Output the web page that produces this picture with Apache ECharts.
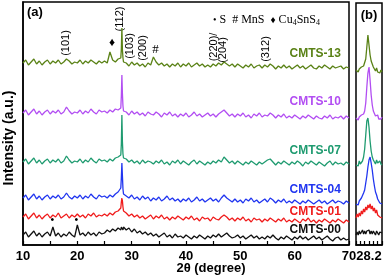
<!DOCTYPE html>
<html><head><meta charset="utf-8">
<script src="https://cdn.jsdelivr.net/npm/echarts@6/dist/echarts.min.js"></script>
<style>html,body{margin:0;padding:0;background:#fff}#c{width:385px;height:278px}</style>
</head><body><div id="c"></div>
<script>
// ---- Data (intensities in arbitrary units, already offset) ----
const twoTheta = [
10,10.5,11,11.5,12,12.5,13,13.5,14,14.5,
15,15.5,16,16.5,17,17.5,18,18.5,19,19.5,
20,20.5,21,21.5,22,22.5,23,23.5,24,24.5,
25,25.5,26,26.5,27,27.5,28,28.1,28.2,28.3,28.4,28.5,
29,29.5,30,30.5,31,31.5,32,32.5,33,33.5,
34,34.5,35,35.5,36,36.5,37,37.5,38,38.5,
39,39.5,40,40.5,41,41.5,42,42.5,43,43.5,
44,44.5,45,45.5,46,46.5,47,47.5,48,48.5,
49,49.5,50,50.5,51,51.5,52,52.5,53,53.5,
54,54.5,55,55.5,56,56.5,57,57.5,58,58.5,
59,59.5,60,60.5,61,61.5,62,62.5,63,63.5,
64,64.5,65,65.5,66,66.5,67,67.5,68,68.5,
69,69.5,70];

const cmts00 = [
10,13,8,11,14,9,12,8,11,13,
9,18,9,12,8,11,9,13,10,8,
20,10,12,9,13,10,12,9,13,11,
12,15,13,16,14,17,15,18,16,17,15,18,
15,17,13,16,12,14,11,13,10,12,
9,11,8,10,12,8,10,7,11,8,
9,7,10,8,6,9,7,10,8,6,
9,7,10,8,11,8,10,12,9,7,
8,10,7,9,6,8,10,7,9,6,
8,6,9,7,10,7,5,8,6,9,
7,5,8,6,9,6,8,5,7,9,
6,8,5,7,9,6,4,7,8,5,
7,5,6];
const cmts01 = [
28,31,26,29,32,27,30,26,29,31,
27,30,28,32,27,29,31,27,30,28,
31,28,30,27,31,29,32,28,30,29,
31,29,32,30,33,34,37,43,47,44,38,34,
32,29,31,28,30,27,29,26,28,30,
26,29,27,30,26,28,25,28,26,29,
27,25,28,26,29,25,27,24,28,26,
27,24,28,26,25,28,30,28,25,27,
24,27,25,28,24,26,23,27,25,26,
23,26,24,27,25,23,26,24,27,23,
25,23,26,24,22,26,24,27,23,25,
22,25,23,26,24,22,25,23,26,24,
22,25,23];
const cmts04 = [
47,50,45,48,51,46,49,45,48,50,
46,49,47,50,46,48,52,48,46,49,
47,50,46,49,47,51,48,46,50,48,
49,47,50,48,51,53,57,67,82,69,56,51,
49,47,50,46,48,45,49,46,48,44,
47,45,48,44,46,49,45,47,44,46,
43,46,44,47,43,45,48,44,46,43,
45,47,44,46,43,47,50,47,45,43,
46,43,45,42,46,44,47,43,45,42,
44,46,43,47,45,42,45,43,46,42,
44,42,45,43,41,44,42,45,43,41,
43,45,42,44,41,43,45,42,44,43,
41,44,42];
const cmts07 = [
83,86,81,84,87,82,85,81,84,86,
82,85,83,86,82,84,89,85,82,84,
83,86,82,85,83,87,84,82,86,84,
85,83,86,84,87,88,90,101,130,103,91,87,
86,83,85,82,84,81,85,82,84,83,
81,84,82,85,81,83,80,84,82,85,
81,84,82,80,83,85,81,84,82,80,
83,81,84,82,85,83,88,85,82,84,
81,84,82,80,83,81,84,82,80,83,
81,83,85,86,83,80,83,81,84,82,
80,83,81,84,82,79,83,81,84,82,
80,83,81,79,82,84,80,83,81,82,
80,83,81];
const cmts10 = [
132,135,130,133,136,131,134,130,133,135,
131,134,132,135,131,133,138,134,131,133,
132,135,131,134,132,136,133,131,135,133,
134,132,135,133,136,135,137,149,170,151,139,134,
133,130,134,131,133,130,132,129,133,131,
130,133,131,128,132,130,133,129,131,128,
131,129,132,128,130,133,129,131,128,130,
132,129,131,128,131,133,135,132,129,131,
128,131,129,132,128,130,127,131,129,132,
128,130,129,132,130,127,130,128,131,127,
129,127,130,128,126,129,127,130,128,126,
129,127,126,129,127,130,126,128,127,129,
126,129,127];
const cmts13 = [
182,185,180,183,186,181,184,180,183,185,
181,184,182,185,181,183,186,184,181,183,
182,185,181,184,182,185,183,181,184,182,
184,182,193,185,183,186,187,196,217,195,187,183,
182,179,183,180,182,179,181,178,182,180,
188,183,180,182,179,181,178,181,179,182,
178,181,179,182,178,180,182,179,181,178,
180,178,181,179,182,180,183,181,179,181,
178,181,179,177,180,178,181,177,179,180,
177,180,178,181,179,176,179,177,180,177,
179,176,178,180,177,179,176,178,180,177,
176,179,177,180,178,176,179,177,178,179,
176,178,177];

// panel (b): zoom around the (112) reflection
const zoomTheta = [27.9,27.925,27.95,27.975,28,28.025,28.05,28.075,28.1,28.125,28.15,28.175,28.2,
  28.225,28.25,28.275,28.3,28.325,28.35,28.375,28.4,28.425,28.45,28.475,28.5];
const zoom13 = [175,177,173,176,174,178,176,179,181,186,198,210,200,190,184,181,178,176,174,177,173,175,172,175,173];
const zoom10 = [127,129,125,128,126,130,128,131,134,142,158,172,178,165,150,140,134,132,129,128,130,126,128,126,128];
const zoom07 = [80,82,79,84,81,83,84,88,96,110,124,127,118,104,94,88,85,83,81,85,82,80,84,81,80];
const zoom04 = [41,43,40,44,43,47,48,52,55,62,69,78,85,88,82,75,66,59,53,50,46,45,42,43,41];
const zoom01 = [27,31,28,32,29,34,31,36,33,38,35,40,37,41,36,39,34,37,32,35,30,31,28,29,27];
const zoom00 = [10,13,10,14,11,12,15,11,14,11,14,12,15,11,14,11,14,12,10,14,12,10,13,11,12];

const sampleNames = ['CMTS-00','CMTS-01','CMTS-04','CMTS-07','CMTS-10','CMTS-13'];
const xTickLabels = [10,20,30,40,50,60,70];
const zoomTickLabels = [28.2];

// annotations in data coordinates [2θ, intensity]
const planeLabels = [
  ['(101)',17.9,202],['(112)',27.9,226],['(103)',29.75,199],['(200)',32.15,197],
  ['(220)/',45.1,198],['(204)',46.75,195],['(312)',54.7,196]];
const phaseMarks = [['♦',26.4,202],['#',34.4,195],['•',15.4,24],['•',19.8,24]];
const sampleLabelPos = [15.5,33.5,55,94,143,191];

// ---- Styles ----
const colors = ['#111111','#f01c1c','#2136f0','#1f9b70','#b24ef2','#5a8216'];
const mainVals = [cmts00,cmts01,cmts04,cmts07,cmts10,cmts13];
const zoomVals = [zoom00,zoom01,zoom04,zoom07,zoom10,zoom13];
const SANS = 'Liberation Sans, Arial, sans-serif';
const SERIF = 'Liberation Serif, Times New Roman, serif';

const chart = echarts.init(document.getElementById('c'), null, {renderer:'canvas'});
const series = [];
mainVals.forEach((v,i)=>series.push({
  type:'line', name:sampleNames[i], xAxisIndex:0, yAxisIndex:0, symbol:'none',
  data: twoTheta.map((x,j)=>[x,v[j]]), lineStyle:{width:1.3,color:colors[i]}, animation:false}));
zoomVals.forEach((v,i)=>series.push({
  type:'line', name:sampleNames[i]+'-b', xAxisIndex:1, yAxisIndex:1, symbol:'none',
  data: zoomTheta.map((x,j)=>[x,v[j]]), lineStyle:{width:1.3,color:colors[i]}, animation:false}));

const tickStyle = {color:'#000', fontWeight:'bold', fontSize:13, fontFamily:SANS, margin:5};
chart.setOption({
  animation:false,
  grid:[
    {left:23,right:36,top:2,bottom:33,show:true,borderColor:'#000',borderWidth:1.5},
    {left:356,right:2,top:3,bottom:33,show:true,borderColor:'#000',borderWidth:1.5}],
  xAxis:[
    {gridIndex:0,type:'value',min:10,max:70,interval:5,
     axisLine:{show:true,lineStyle:{color:'#000',width:1.5}},
     axisTick:{inside:true,length:4,lineStyle:{color:'#000',width:1.2}},
     axisLabel:Object.assign({formatter:v=>xTickLabels.includes(v)?String(v):''},tickStyle),
     splitLine:{show:false}},
    {gridIndex:1,type:'value',min:27.9,max:28.5,interval:0.1,
     axisLine:{show:true,lineStyle:{color:'#000',width:1.5}},
     axisTick:{inside:true,length:4,lineStyle:{color:'#000',width:1.2}},
     axisLabel:Object.assign({formatter:v=>zoomTickLabels.some(t=>Math.abs(t-v)<1e-6)?'28.2':''},tickStyle),
     splitLine:{show:false}}],
  yAxis:[
    {gridIndex:0,type:'value',min:0,max:243,axisLine:{show:true,lineStyle:{color:'#000',width:1.5}},
     axisTick:{show:false},axisLabel:{show:false},splitLine:{show:false}},
    {gridIndex:1,type:'value',min:0,max:242,axisLine:{show:false},
     axisTick:{show:false},axisLabel:{show:false},splitLine:{show:false}}],
  series
});

const P = (x,y)=>chart.convertToPixel({xAxisIndex:0,yAxisIndex:0},[x,y]);
const graphic = [];
planeLabels.forEach(([t,x,y])=>{const p=P(x,y);graphic.push({type:'text',x:p[0],y:p[1],rotation:Math.PI/2,
  style:{text:t,fill:'#000',font:'11px '+SANS,textAlign:'center',textVerticalAlign:'middle'}});});
phaseMarks.forEach(([t,x,y])=>{const p=P(x,y);graphic.push({type:'text',x:p[0],y:p[1],
  style:{text:t,fill:'#000',font:(t==='#'?'13px ':'12px ')+SERIF,textAlign:'center',textVerticalAlign:'middle'}});});
sampleNames.forEach((n,i)=>{const p=P(68.5,sampleLabelPos[i]);graphic.push({type:'text',x:p[0],y:p[1],
  style:{text:n,fill:colors[i],font:'bold 12px '+SANS,textAlign:'right',textVerticalAlign:'middle'}});});
graphic.push({type:'text',x:213,y:20,style:{text:'{m|•} S  # MnS  {m|♦} Cu{s|4}SnS{s|4}',
  fill:'#000',font:'12px '+SERIF,textAlign:'left',textVerticalAlign:'middle',
  rich:{m:{fontSize:10,fontFamily:SERIF,fill:'#000'},s:{fontSize:8,fontFamily:SERIF,fill:'#000',verticalAlign:'bottom',padding:[6,0,0,0]}}}});
graphic.push({type:'text',x:27,y:12,style:{text:'(a)',fill:'#000',font:'bold 13px '+SANS,textAlign:'left',textVerticalAlign:'middle'}});
graphic.push({type:'text',x:369,y:15,style:{text:'(b)',fill:'#000',font:'bold 13px '+SANS,textAlign:'center',textVerticalAlign:'middle'}});
graphic.push({type:'text',x:9,y:138,rotation:Math.PI/2,style:{text:'Intensity (a.u.)',fill:'#000',font:'bold 14px '+SANS,textAlign:'center',textVerticalAlign:'middle'}});
graphic.push({type:'text',x:211,y:268,style:{text:'2θ (degree)',fill:'#000',font:'bold 13px '+SANS,textAlign:'center',textVerticalAlign:'middle'}});
chart.setOption({graphic});
</script>
</body></html>
